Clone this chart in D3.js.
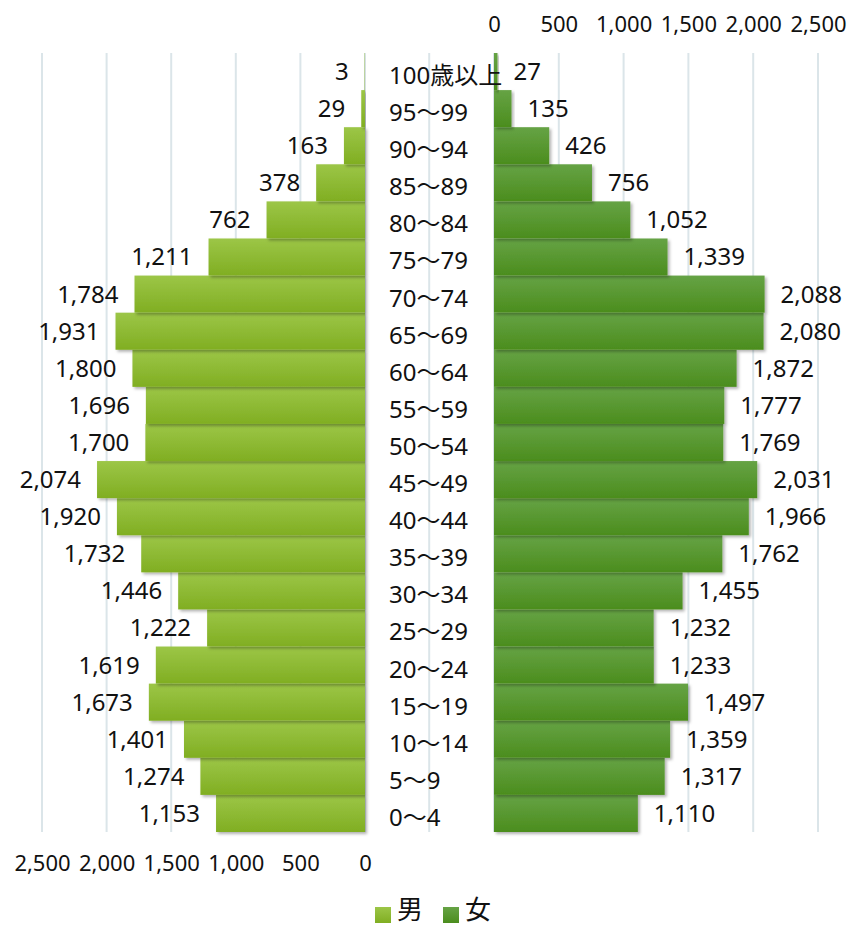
<!DOCTYPE html>
<html>
<head>
<meta charset="utf-8">
<script src="https://cdn.jsdelivr.net/npm/d3@7"></script>
<style>
  html, body { margin: 0; padding: 0; background: #fff; }
  svg { display: block; }
  text { font-family: "Noto Sans", "Noto Sans CJK JP", sans-serif; fill: #111; }
</style>
</head>
<body>
<svg id="chart" width="851" height="929"></svg>
<script>
// ---- data ----
const categories = ["0～4","5～9","10～14","15～19","20～24","25～29","30～34","35～39","40～44","45～49","50～54","55～59","60～64","65～69","70～74","75～79","80～84","85～89","90～94","95～99","100歳以上"];
const male   = [1153,1274,1401,1673,1619,1222,1446,1732,1920,2074,1700,1696,1800,1931,1784,1211,762,378,163,29,3];
const female = [1110,1317,1359,1497,1233,1232,1455,1762,1966,2031,1769,1777,1872,2080,2088,1339,1052,756,426,135,27];
const tickValues = [0,500,1000,1500,2000,2500];
const seriesNames = ["男","女"];

// ---- layout ----
const svg = d3.select("#chart");
const plotTop = 53, plotBottom = 832;
const xM = d3.scaleLinear().domain([0, 2500]).range([365, 42]);
const xF = d3.scaleLinear().domain([0, 2500]).range([494, 818]);
const y = d3.scaleBand().domain(categories.slice().reverse()).range([plotTop, plotBottom]).padding(0);
const fmt = d3.format(",");

const defs = svg.append("defs");
function grad(id, c1, c2) {
  const g = defs.append("linearGradient").attr("id", id).attr("x1", 0).attr("y1", 0).attr("x2", 0).attr("y2", 1);
  g.append("stop").attr("offset", "0%").attr("stop-color", c1);
  g.append("stop").attr("offset", "100%").attr("stop-color", c2);
}
grad("gM", "#9cc647", "#80ae22");
grad("gF", "#66a345", "#4b8d1d");
const f = defs.append("filter").attr("id", "sh").attr("x", "-10%").attr("y", "-20%").attr("width", "130%").attr("height", "160%");
f.append("feDropShadow").attr("dx", 2).attr("dy", 2).attr("stdDeviation", 1.5).attr("flood-color", "#000").attr("flood-opacity", 0.3);

// gridlines
const gridColor = "#dbe5e9";
svg.append("g").selectAll("line").data(tickValues).join("line")
  .attr("x1", d => xM(d)).attr("x2", d => xM(d)).attr("y1", plotTop).attr("y2", plotBottom)
  .attr("stroke", gridColor).attr("stroke-width", 2);
svg.append("g").selectAll("line").data([-500].concat(tickValues)).join("line")
  .attr("x1", d => xF(d)).attr("x2", d => xF(d)).attr("y1", plotTop).attr("y2", plotBottom)
  .attr("stroke", gridColor).attr("stroke-width", 2);

// bars
svg.append("g").selectAll("rect").data(categories).join("rect")
  .attr("x", (c, i) => xM(male[i])).attr("width", (c, i) => xM(0) - xM(male[i]))
  .attr("y", c => y(c)).attr("height", y.bandwidth())
  .attr("fill", "url(#gM)").attr("filter", "url(#sh)");
svg.append("g").selectAll("rect").data(categories).join("rect")
  .attr("x", xF(0)).attr("width", (c, i) => xF(female[i]) - xF(0))
  .attr("y", c => y(c)).attr("height", y.bandwidth())
  .attr("fill", "url(#gF)").attr("filter", "url(#sh)");

// data labels
svg.append("g").selectAll("text").data(categories).join("text")
  .attr("x", (c, i) => xM(male[i]) - 16).attr("y", c => y(c) + y.bandwidth() / 2 + 2)
  .attr("text-anchor", "end").attr("dominant-baseline", "middle")
  .attr("font-size", 24).text((c, i) => fmt(male[i]));
svg.append("g").selectAll("text").data(categories).join("text")
  .attr("x", (c, i) => xF(female[i]) + 16).attr("y", c => y(c) + y.bandwidth() / 2 + 2)
  .attr("text-anchor", "start").attr("dominant-baseline", "middle")
  .attr("font-size", 24).text((c, i) => fmt(female[i]));

// category labels
svg.append("g").selectAll("text").data(categories).join("text")
  .attr("x", 389).attr("y", c => y(c) + y.bandwidth() / 2 + 6)
  .attr("dominant-baseline", "middle").attr("font-size", 24).text(c => c);

// axes (labels only)
const axB = svg.append("g").attr("transform", `translate(0,${plotBottom + 20})`)
  .call(d3.axisBottom(xM).tickValues(tickValues).tickFormat(fmt).tickSize(0));
axB.select(".domain").remove();
axB.selectAll("text").attr("font-size", 22).attr("font-family", null).attr("fill", "#111");
const axT = svg.append("g").attr("transform", `translate(0,${plotTop - 18})`)
  .call(d3.axisTop(xF).tickValues(tickValues).tickFormat(fmt).tickSize(0));
axT.select(".domain").remove();
axT.selectAll("text").attr("font-size", 22).attr("font-family", null).attr("fill", "#111");

// legend
const legend = svg.append("g");
const lx = [375, 443];
const lfill = ["url(#gM)", "url(#gF)"];
seriesNames.forEach((n, i) => {
  legend.append("rect").attr("x", lx[i]).attr("y", 907).attr("width", 16).attr("height", 16).attr("fill", lfill[i]);
  legend.append("text").attr("x", lx[i] + 22).attr("y", 912).attr("dominant-baseline", "middle")
    .attr("font-size", 26).text(n);
});
</script>
</body>
</html>
